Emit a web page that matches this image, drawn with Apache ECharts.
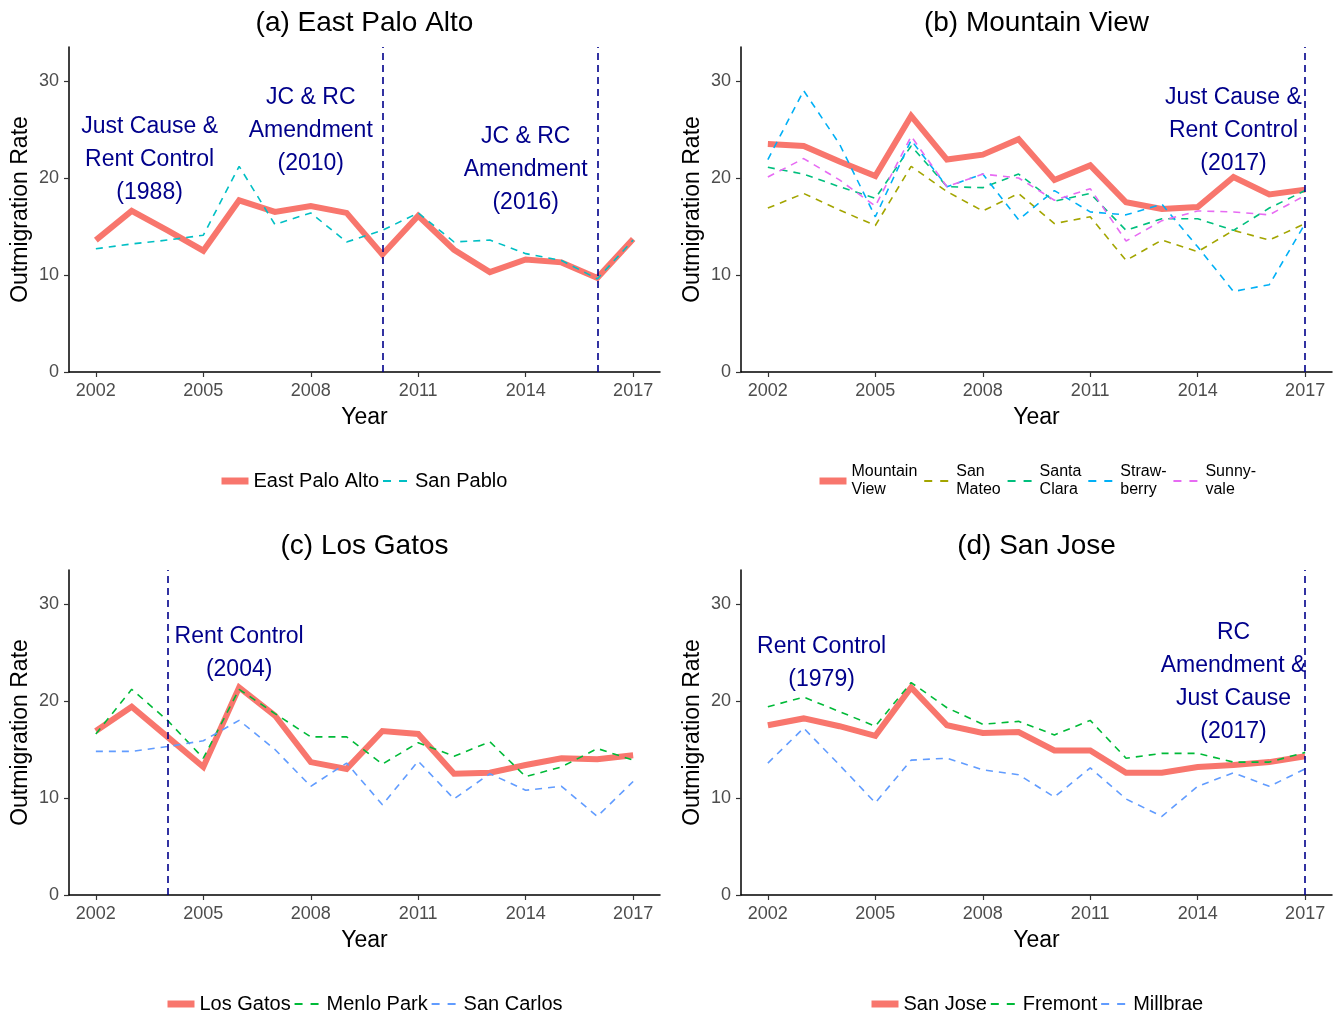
<!DOCTYPE html>
<html>
<head>
<meta charset="utf-8">
<script src="https://cdn.jsdelivr.net/npm/echarts@6/dist/echarts.min.js"></script>
<style>
html,body{margin:0;padding:0;background:#fff;}
#chart{width:1336px;height:1017px;}
</style>
</head>
<body>
<div id="chart"></div>
<script>
// ---------- data ----------
var years = [2002,2003,2004,2005,2006,2007,2008,2009,2010,2011,2012,2013,2014,2015,2016,2017];
var xTicks = [2002,2005,2008,2011,2014,2017];
var yTicks = [0,10,20,30];

// (a)
var eastPaloAlto = [13.6,16.6,14.6,12.5,17.7,16.5,17.1,16.4,12.1,16.1,12.6,10.3,11.6,11.3,9.7,13.7];
var sanPablo     = [12.7,13.2,13.6,14.1,21.2,15.2,16.4,13.4,14.6,16.4,13.4,13.6,12.2,11.5,9.6,13.6];
// (b)
var mountainView = [23.5,23.3,21.7,20.2,26.4,21.9,22.4,24.0,19.8,21.3,17.5,16.8,17.0,20.1,18.3,18.8];
var sanMateo     = [16.9,18.4,16.7,15.1,21.2,18.6,16.6,18.4,15.3,16.0,11.5,13.6,12.4,14.6,13.6,15.3];
var santaClara   = [21.1,20.4,19.1,17.9,23.3,19.1,19.0,20.4,17.6,18.4,14.6,15.8,15.8,14.6,16.9,18.7];
var strawberry   = [21.9,29.0,23.5,16.0,23.9,19.1,20.4,15.7,18.7,16.5,16.2,17.3,12.9,8.3,9.0,15.3];
var sunnyvale    = [20.1,22.0,19.8,17.1,24.3,19.1,20.4,20.0,17.7,18.9,13.5,15.6,16.6,16.5,16.2,18.2];
// (c)
var losGatos     = [16.9,19.4,16.3,13.2,21.4,18.5,13.7,13.0,16.9,16.6,12.5,12.6,13.4,14.1,14.0,14.4];
var menloPark    = [16.6,21.2,18.0,14.1,21.2,18.7,16.3,16.3,13.5,15.7,14.3,15.8,12.2,13.2,15.1,13.9];
var sanCarlos    = [14.8,14.8,15.3,15.9,18.0,15.0,11.2,13.6,9.3,13.8,9.9,12.5,10.8,11.2,8.1,11.7];
// (d)
var sanJose      = [17.5,18.2,17.4,16.4,21.4,17.5,16.7,16.8,14.9,14.9,12.6,12.6,13.2,13.4,13.7,14.3];
var fremont      = [19.4,20.4,18.9,17.4,21.9,19.3,17.6,17.9,16.5,18.0,14.1,14.6,14.6,13.7,13.7,14.7];
var millbrae     = [13.6,17.2,13.4,9.5,13.9,14.1,12.9,12.4,10.1,13.1,9.9,8.1,11.2,12.6,11.2,13.0];

var titles = ['(a) East Palo Alto','(b) Mountain View','(c) Los Gatos','(d) San Jose'];
var policyYears = [[2010,2016],[2017],[2004],[2017]];
var annotations = [
  [{x:2003.5,y:21.9,text:'Just Cause &\nRent Control\n(1988)'},
   {x:2008.0,y:24.9,text:'JC & RC\nAmendment\n(2010)'},
   {x:2014.0,y:20.9,text:'JC & RC\nAmendment\n(2016)'}],
  [{x:2015.0,y:24.9,text:'Just Cause &\nRent Control\n(2017)'}],
  [{x:2006.0,y:24.9,text:'Rent Control\n(2004)'}],
  [{x:2003.5,y:23.9,text:'Rent Control\n(1979)'},
   {x:2015.0,y:21.9,text:'RC\nAmendment &\nJust Cause\n(2017)'}]
];
var panelSeries = [
  [{name:'East Palo Alto',data:eastPaloAlto,color:'#F8766D',main:true},
   {name:'San Pablo',data:sanPablo,color:'#00BFC4'}],
  [{name:'Mountain View',data:mountainView,color:'#F8766D',main:true},
   {name:'San Mateo',data:sanMateo,color:'#A3A500'},
   {name:'Santa Clara',data:santaClara,color:'#00BF7D'},
   {name:'Strawberry',data:strawberry,color:'#00B0F6'},
   {name:'Sunnyvale',data:sunnyvale,color:'#E76BF3'}],
  [{name:'Los Gatos',data:losGatos,color:'#F8766D',main:true},
   {name:'Menlo Park',data:menloPark,color:'#00BA38'},
   {name:'San Carlos',data:sanCarlos,color:'#619CFF'}],
  [{name:'San Jose',data:sanJose,color:'#F8766D',main:true},
   {name:'Fremont',data:fremont,color:'#00BA38'},
   {name:'Millbrae',data:millbrae,color:'#619CFF'}]
];
var legendLabels = {
  'Mountain View':'Mountain\nView','San Mateo':'San\nMateo','Santa Clara':'Santa\nClara',
  'Strawberry':'Straw-\nberry','Sunnyvale':'Sunny-\nvale'
};

// ---------- layout ----------
var FONT = '"Liberation Sans", Arial, sans-serif';
var NAVY = '#00008B';
var gridPos = [
  {left:69, top:47, width:591, height:325},
  {left:741, top:47, width:591, height:325},
  {left:69, top:570, width:591, height:325},
  {left:741, top:570, width:591, height:325}
];

var measureCtx = document.createElement('canvas').getContext('2d');
function textW(str, size){
  measureCtx.font = size + 'px ' + FONT;
  return Math.max.apply(null, str.split('\n').map(function(s){return measureCtx.measureText(s).width;}));
}

var option = {
  animation:false,
  backgroundColor:'#fff',
  textStyle:{fontFamily:FONT},
  title:[], grid:[], xAxis:[], yAxis:[], legend:[], series:[]
};

gridPos.forEach(function(g,i){
  var cx = g.left + g.width/2;
  option.title.push({
    text:titles[i], left:cx, top:g.top-38, textAlign:'center', padding:0,
    textStyle:{fontFamily:FONT,fontSize:28,fontWeight:'normal',color:'#000'}
  });
  option.grid.push({left:g.left, top:g.top, width:g.width, height:g.height, containLabel:false});
  option.xAxis.push({
    type:'value', gridIndex:i, min:2001.25, max:2017.75,
    name:'Year', nameLocation:'middle', nameGap:34,
    nameTextStyle:{fontFamily:FONT,fontSize:23,color:'#000'},
    axisLine:{show:true,onZero:false,lineStyle:{color:'#000',width:1.5}},
    axisTick:{show:true,length:5,customValues:xTicks,lineStyle:{color:'#333',width:1.2}},
    axisLabel:{customValues:xTicks,fontFamily:FONT,fontSize:18,color:'#4D4D4D',margin:10,
      formatter:function(v){return String(v);}},
    splitLine:{show:false}
  });
  option.yAxis.push({
    type:'value', gridIndex:i, min:0, max:33.5,
    name:'Outmigration Rate', nameLocation:'middle', nameGap:37, nameRotate:90,
    nameTextStyle:{fontFamily:FONT,fontSize:23,color:'#000'},
    axisLine:{show:true,onZero:false,lineStyle:{color:'#000',width:1.5}},
    axisTick:{show:true,length:5,customValues:yTicks,lineStyle:{color:'#333',width:1.2}},
    axisLabel:{customValues:yTicks,fontFamily:FONT,fontSize:18,color:'#4D4D4D',margin:10,
      formatter:function(v){return String(v);}},
    splitLine:{show:false}
  });
  var multi = panelSeries[i].length === 5;
  var fs = multi ? 16 : 20, gap = multi ? 6 : 3, iw = 27;
  var totalW = 0;
  panelSeries[i].forEach(function(s,k){
    totalW += iw + 5 + textW(legendLabels[s.name] || s.name, fs) + (k < panelSeries[i].length-1 ? gap : 0);
  });
  option.legend.push({
    data: panelSeries[i].map(function(s){
      return {name:s.name,
        lineStyle: s.main ? {width:7,type:'solid',color:s.color,cap:'butt'}
                          : {width:1.8,type:[8,8],color:s.color,cap:'butt'}};
    }),
    left: Math.round(cx - totalW/2 - 4), top: multi ? g.top+416 : g.top+423,
    orient:'horizontal', itemGap:gap, itemWidth:iw, itemHeight:14, padding:0,
    selectedMode:false,
    itemStyle:{opacity:0},
    formatter: function(n){ return legendLabels[n] || n; },
    textStyle:{fontFamily:FONT,fontSize:fs,color:'#000', lineHeight: multi ? 18 : 22}
  });
  panelSeries[i].forEach(function(s,k){
    var ser = {
      name:s.name, type:'line', xAxisIndex:i, yAxisIndex:i,
      data: years.map(function(y,j){return [y, s.data[j]];}),
      symbol:'none', silent:true, z: s.main ? 2 : 3,
      lineStyle: s.main ? {color:s.color,width:6,cap:'butt',join:'miter'}
                        : {color:s.color,width:1.6,type:[7,6]},
      itemStyle:{color:s.color}
    };
    if(s.main){
      ser.markLine = {
        symbol:'none', silent:true, label:{show:false},
        lineStyle:{color:NAVY,width:1.6,type:[7,5]},
        data: policyYears[i].map(function(y){return {xAxis:y};})
      };
      ser.markPoint = {
        symbol:'circle', symbolSize:1, silent:true,
        itemStyle:{color:'rgba(0,0,0,0)'},
        label:{show:true,position:'inside',color:NAVY,fontFamily:FONT,fontSize:23,lineHeight:33,align:'center',verticalAlign:'middle'},
        data: annotations[i].map(function(a){
          return {coord:[a.x,a.y], label:{formatter:a.text}};
        })
      };
    }
    option.series.push(ser);
  });
});

var chart = echarts.init(document.getElementById('chart'), null, {renderer:'canvas'});
chart.setOption(option);
</script>
</body>
</html>
